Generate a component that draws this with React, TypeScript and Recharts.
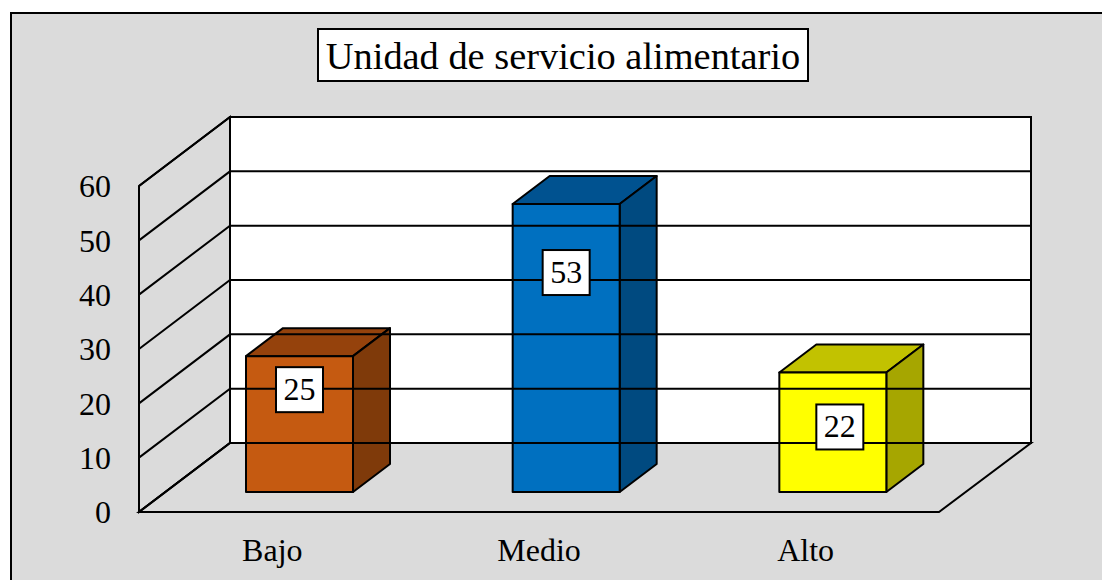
import React from "react";
import { BarChart, Bar, XAxis, YAxis, ReferenceArea, ReferenceLine, LabelList } from "recharts";

const categories = ["Bajo", "Medio", "Alto"];
const values = [25, 53, 22];
const yTicks = [0, 10, 20, 30, 40, 50, 60];
const title = "Unidad de servicio alimentario";

const frontColors = ["#C55A11", "#0070C0", "#FFFF00"];
const topColors = ["#95420C", "#005290", "#C2C200"];
const sideColors = ["#7F3A0A", "#004A80", "#A6A600"];
const labelDrop = [33, 68, 54];
const labelShift = [0, 0, 7];

const FONT = "'Liberation Serif', 'Times New Roman', serif";
const WALL_DX = 91;
const WALL_DY = 69;
const BAR_DX = 27;
const BAR_DY = 20;
const DEPTH_DX = 37;
const DEPTH_DY = 28;

const rows = categories.map((name, i) => ({ name, value: values[i] }));

function Walls(props: any) {
  const { x, y, width, height } = props;
  const b = y + height;
  const r = x + width;
  const dx = WALL_DX;
  const dy = WALL_DY;
  return (
    <g stroke="#000" strokeWidth={2} strokeLinejoin="miter">
      <rect x={x + dx} y={y - dy} width={width + 1} height={height} fill="#fff" />
      <path d={`M${x},${b} L${x},${y} L${x + dx},${y - dy} L${x + dx},${b - dy} Z`} fill="#DBDBDB" />
      <path d={`M${x},${b} L${r},${b} L${r + dx + 1},${b - dy} L${x + dx},${b - dy} Z`} fill="#DBDBDB" />
    </g>
  );
}

function GridLine(props: any) {
  const { x1, y1, x2 } = props;
  return (
    <path
      d={`M${x1},${y1} L${x1 + WALL_DX},${y1 - WALL_DY} L${x2 + WALL_DX + 1},${y1 - WALL_DY}`}
      fill="none"
      stroke="#000"
      strokeWidth={2}
    />
  );
}

function Box3D(props: any) {
  const { x, y, width, height, index } = props;
  const fx = x + BAR_DX;
  const fy = y - BAR_DY;
  const r = fx + width;
  const b = fy + height;
  return (
    <g stroke="#000" strokeWidth={2} strokeLinejoin="round">
      <path
        d={`M${fx},${fy} L${fx + DEPTH_DX},${fy - DEPTH_DY} L${r + DEPTH_DX},${fy - DEPTH_DY} L${r},${fy} Z`}
        fill={topColors[index]}
      />
      <path
        d={`M${r},${fy} L${r + DEPTH_DX},${fy - DEPTH_DY} L${r + DEPTH_DX},${b - DEPTH_DY} L${r},${b} Z`}
        fill={sideColors[index]}
      />
      <rect x={fx} y={fy} width={width} height={height} fill={frontColors[index]} />
    </g>
  );
}

function ValueBox(props: any) {
  const { x, y, width, value, index } = props;
  const cx = x + BAR_DX + width / 2 + labelShift[index];
  const cy = y - BAR_DY + labelDrop[index];
  return (
    <g>
      <rect x={cx - 23.5} y={cy - 22} width={47} height={45} fill="#fff" stroke="#000" strokeWidth={2} />
      <text x={cx} y={cy + 11} textAnchor="middle" fontFamily={FONT} fontSize={32} fill="#000">
        {value}
      </text>
    </g>
  );
}

export default function App() {
  return (
    <div
      style={{
        position: "absolute",
        left: 0,
        top: 0,
        width: 1102,
        height: 580,
        overflow: "hidden",
        background: "#fff",
      }}
    >
      <div
        style={{
          position: "absolute",
          left: 10,
          top: 12,
          width: 1200,
          height: 700,
          background: "#DBDBDB",
          border: "2px solid #000",
          boxSizing: "border-box",
        }}
      />
      <div style={{ position: "absolute", left: 0, top: 0 }}>
        <BarChart
          width={1102}
          height={580}
          data={rows}
          margin={{ top: 186, right: 163, bottom: 0, left: 79 }}
          barCategoryGap={0}
        >
          <ReferenceArea y1={0} y2={60} shape={Walls} ifOverflow="visible" />
          {yTicks.map((v) => (
            <ReferenceLine key={v} y={v} shape={GridLine} ifOverflow="visible" />
          ))}
          <XAxis
            dataKey="name"
            axisLine={false}
            tickLine={false}
            tickSize={0}
            tickMargin={26}
            height={68}
            tick={{ fontFamily: FONT, fontSize: 32, fill: "#000" }}
          />
          <YAxis
            type="number"
            domain={[0, 60]}
            ticks={yTicks}
            axisLine={false}
            tickLine={false}
            tickSize={0}
            tickMargin={28}
            width={60}
            tick={{ fontFamily: FONT, fontSize: 32, fill: "#000" }}
          />
          <Bar dataKey="value" barSize={107} shape={Box3D} isAnimationActive={false}>
            <LabelList dataKey="value" content={ValueBox} />
          </Bar>
        </BarChart>
      </div>
      <div
        style={{
          position: "absolute",
          left: 317,
          top: 28,
          width: 492,
          height: 54,
          boxSizing: "border-box",
          border: "2px solid #000",
          background: "#fff",
          fontFamily: FONT,
          fontSize: 38.4,
          lineHeight: "52px",
          textAlign: "center",
          color: "#000",
          whiteSpace: "nowrap",
        }}
      >
        {title}
      </div>
    </div>
  );
}
